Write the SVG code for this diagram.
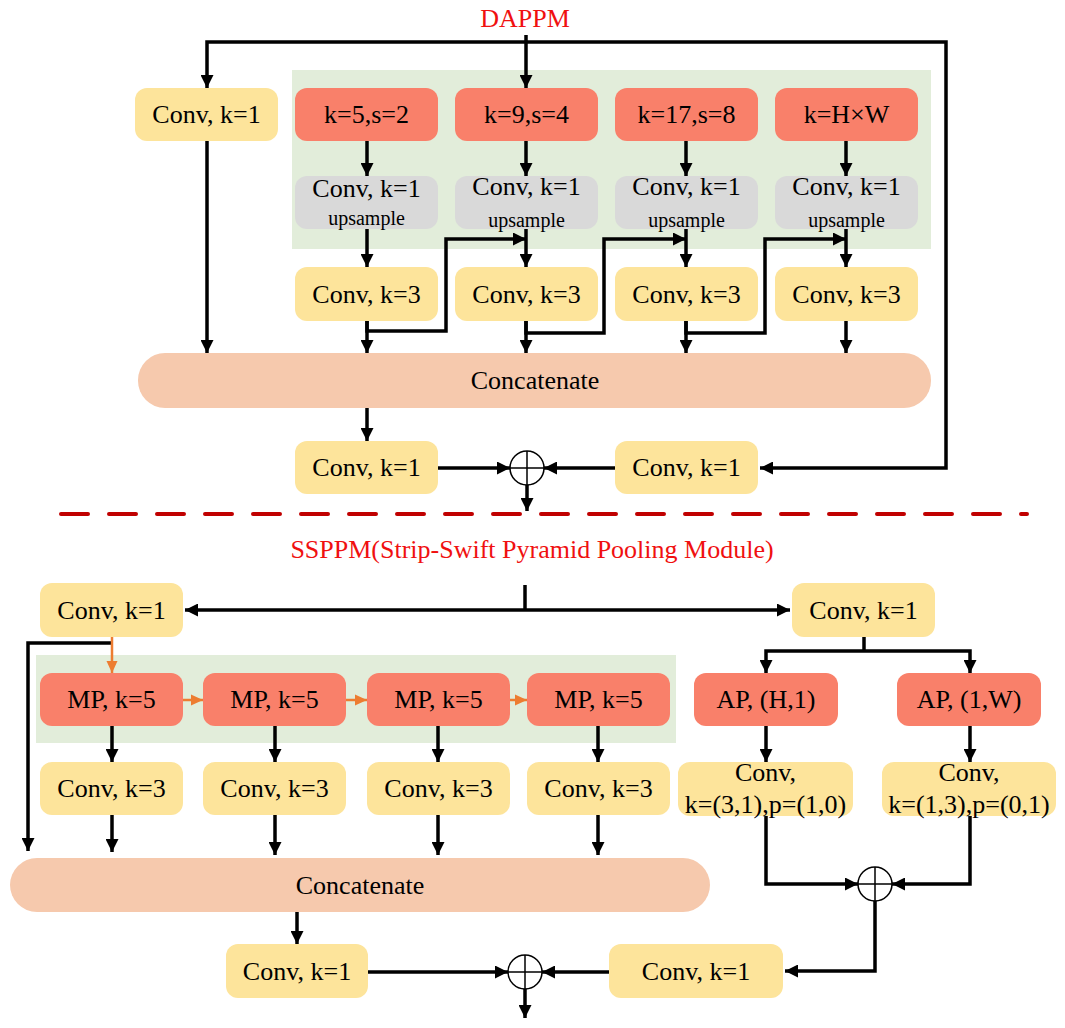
<svg xmlns="http://www.w3.org/2000/svg" width="1065" height="1028" viewBox="0 0 1065 1028" font-family="'Liberation Serif','Times New Roman',serif">
<style>
text{font-family:"Liberation Serif","Times New Roman",serif;font-size:26px;fill:#000;text-anchor:middle}
.title{fill:#F01010}
.up{font-size:20px}
.y{fill:#FDE49B}
.r{fill:#F9806A}
.g{fill:#D9D9D9}
.c{fill:#F6C9AD}
.bg{fill:#E2EDDA}
.ln{fill:none;stroke:#000;stroke-width:3.5;stroke-linejoin:miter}
.ar{marker-end:url(#ah)}
.ar2{marker-start:url(#ah);marker-end:url(#ah)}
.or{fill:none;stroke:#ED7D31;stroke-width:2.5;marker-end:url(#ao)}
.sum{fill:#fff;stroke:#000;stroke-width:1.5}
.dash{fill:none;stroke:#C00000;stroke-width:4;stroke-linecap:round;stroke-dasharray:27 21}
</style>
<defs>
<marker id="ah" markerUnits="userSpaceOnUse" markerWidth="13" markerHeight="13" refX="13" refY="6.5" orient="auto-start-reverse">
<path d="M0,0 L13,6.5 L0,13 z" fill="#000"/>
</marker>
<marker id="ao" markerUnits="userSpaceOnUse" markerWidth="12" markerHeight="12" refX="12" refY="6" orient="auto">
<path d="M0,0.5 L12,6 L0,11.5 z" fill="#ED7D31"/>
</marker>
</defs>

<!-- backgrounds -->
<rect class="bg" x="292" y="70" width="639" height="179"/>
<rect class="bg" x="36" y="655" width="640" height="88"/>

<text class="title" x="525" y="27">DAPPM</text>
<text class="title" x="532" y="558">SSPPM(Strip-Swift Pyramid Pooling Module)</text>

<!-- DAPPM nodes -->
<g id="d_conv1_left"><rect class="y" x="135" y="88" width="143" height="53" rx="12"/><text x="206.5" y="123">Conv, k=1</text></g>
<g id="d_pool1"><rect class="r" x="295" y="88" width="143" height="53" rx="12"/><text x="366.5" y="123">k=5,s=2</text></g>
<g id="d_pool2"><rect class="r" x="455" y="88" width="143" height="53" rx="12"/><text x="526.5" y="123">k=9,s=4</text></g>
<g id="d_pool3"><rect class="r" x="615" y="88" width="143" height="53" rx="12"/><text x="686.5" y="123">k=17,s=8</text></g>
<g id="d_pool4"><rect class="r" x="775" y="88" width="143" height="53" rx="12"/><text x="846.5" y="123">k=H×W</text></g>

<g id="d_up1"><rect class="g" x="295" y="176" width="143" height="53" rx="12"/><text x="366.5" y="197">Conv, k=1</text><text class="up" x="366.5" y="225">upsample</text></g>
<g id="d_up2"><rect class="g" x="455" y="176" width="143" height="53" rx="12"/><text x="526.5" y="195">Conv, k=1</text><text class="up" x="526.5" y="227">upsample</text></g>
<g id="d_up3"><rect class="g" x="615" y="176" width="143" height="53" rx="12"/><text x="686.5" y="195">Conv, k=1</text><text class="up" x="686.5" y="227">upsample</text></g>
<g id="d_up4"><rect class="g" x="775" y="176" width="143" height="53" rx="12"/><text x="846.5" y="195">Conv, k=1</text><text class="up" x="846.5" y="227">upsample</text></g>

<g id="d_conv3_1"><rect class="y" x="295" y="267" width="143" height="54" rx="12"/><text x="366.5" y="303">Conv, k=3</text></g>
<g id="d_conv3_2"><rect class="y" x="455" y="267" width="143" height="54" rx="12"/><text x="526.5" y="303">Conv, k=3</text></g>
<g id="d_conv3_3"><rect class="y" x="615" y="267" width="143" height="54" rx="12"/><text x="686.5" y="303">Conv, k=3</text></g>
<g id="d_conv3_4"><rect class="y" x="775" y="267" width="143" height="54" rx="12"/><text x="846.5" y="303">Conv, k=3</text></g>

<g id="d_concat"><rect class="c" x="138" y="353" width="793" height="55" rx="27"/><text x="535" y="389">Concatenate</text></g>

<g id="d_conv_out"><rect class="y" x="295" y="441" width="143" height="53" rx="12"/><text x="366.5" y="476">Conv, k=1</text></g>
<g id="d_conv_short"><rect class="y" x="615" y="441" width="143" height="53" rx="12"/><text x="686.5" y="476">Conv, k=1</text></g>
<g id="d_sum"><circle class="sum" cx="527" cy="468" r="17"/><path d="M510,468 H544 M527,451 V485" stroke="#000" stroke-width="1.5"/></g>

<!-- SSPPM nodes -->
<g id="s_conv1_left"><rect class="y" x="40" y="583" width="143" height="54" rx="12"/><text x="111.5" y="619">Conv, k=1</text></g>
<g id="s_conv1_right"><rect class="y" x="792" y="583" width="143" height="54" rx="12"/><text x="863.5" y="619">Conv, k=1</text></g>

<g id="s_mp1"><rect class="r" x="40" y="673" width="143" height="53" rx="12"/><text x="111.5" y="708">MP, k=5</text></g>
<g id="s_mp2"><rect class="r" x="203" y="673" width="143" height="53" rx="12"/><text x="274.5" y="708">MP, k=5</text></g>
<g id="s_mp3"><rect class="r" x="367" y="673" width="143" height="53" rx="12"/><text x="438.5" y="708">MP, k=5</text></g>
<g id="s_mp4"><rect class="r" x="527" y="673" width="143" height="53" rx="12"/><text x="598.5" y="708">MP, k=5</text></g>

<g id="s_conv3_1"><rect class="y" x="40" y="762" width="143" height="53" rx="12"/><text x="111.5" y="797">Conv, k=3</text></g>
<g id="s_conv3_2"><rect class="y" x="203" y="762" width="143" height="53" rx="12"/><text x="274.5" y="797">Conv, k=3</text></g>
<g id="s_conv3_3"><rect class="y" x="367" y="762" width="143" height="53" rx="12"/><text x="438.5" y="797">Conv, k=3</text></g>
<g id="s_conv3_4"><rect class="y" x="527" y="762" width="143" height="53" rx="12"/><text x="598.5" y="797">Conv, k=3</text></g>

<g id="s_ap1"><rect class="r" x="694" y="673" width="144" height="53" rx="12"/><text x="766" y="708">AP, (H,1)</text></g>
<g id="s_ap2"><rect class="r" x="897" y="673" width="144" height="53" rx="12"/><text x="969" y="708">AP, (1,W)</text></g>

<g id="s_strip1"><rect class="y" x="678" y="762" width="175" height="54" rx="12"/><text x="765.5" y="781">Conv,</text><text x="765.5" y="813">k=(3,1),p=(1,0)</text></g>
<g id="s_strip2"><rect class="y" x="882" y="762" width="174" height="54" rx="12"/><text x="969" y="781">Conv,</text><text x="969" y="813">k=(1,3),p=(0,1)</text></g>

<g id="s_concat"><rect class="c" x="10" y="858" width="700" height="54" rx="27"/><text x="360" y="894">Concatenate</text></g>

<g id="s_conv_out"><rect class="y" x="226" y="944" width="142" height="54" rx="12"/><text x="297" y="980">Conv, k=1</text></g>
<g id="s_conv_short"><rect class="y" x="609" y="944" width="174" height="54" rx="12"/><text x="696" y="980">Conv, k=1</text></g>
<g id="s_sum1"><circle class="sum" cx="525" cy="972" r="17"/><path d="M508,972 H542 M525,955 V989" stroke="#000" stroke-width="1.5"/></g>
<g id="s_sum2"><circle class="sum" cx="875" cy="884" r="17"/><path d="M858,884 H892 M875,867 V901" stroke="#000" stroke-width="1.5"/></g>

<!-- connectors -->
<g id="connectors">
<!-- DAPPM -->
<path class="ln ar2" d="M207,88 L207,42 L946,42 L946,468 L760,468"/>
<path class="ln ar" d="M526,35 L526,88"/>
<path class="ln ar" d="M207,141 L207,353"/>
<path class="ln ar" d="M367,141 L367,176"/>
<path class="ln ar" d="M526,141 L526,176"/>
<path class="ln ar" d="M686,141 L686,176"/>
<path class="ln ar" d="M846,141 L846,176"/>
<path class="ln ar" d="M367,229 L367,267"/>
<path class="ln ar" d="M526,229 L526,267"/>
<path class="ln ar" d="M686,229 L686,267"/>
<path class="ln ar" d="M846,229 L846,267"/>
<path class="ln ar" d="M367,321 L367,353"/>
<path class="ln ar" d="M526,321 L526,353"/>
<path class="ln ar" d="M686,321 L686,353"/>
<path class="ln ar" d="M846,321 L846,353"/>
<path class="ln ar" d="M367,321 L367,331 L446,331 L446,239 L526,239"/>
<path class="ln ar" d="M526,321 L526,333 L604,333 L604,239 L686,239"/>
<path class="ln ar" d="M686,321 L686,333 L765,333 L765,239 L846,239"/>
<path class="ln ar" d="M367,408 L367,441"/>
<path class="ln ar" d="M438,468 L510,468"/>
<path class="ln ar" d="M615,468 L544,468"/>
<path class="ln ar" d="M527,485 L527,511"/>

<path class="dash" d="M61,514 L1027,514"/>

<!-- SSPPM -->
<path class="ln" d="M525,585 L525,610"/>
<path class="ln ar2" d="M185,610 L790,610"/>
<path class="ln" d="M864,637 L864,651"/>
<path class="ln ar2" d="M766,673 L766,651 L970,651 L970,673"/>
<path class="ln ar" d="M112,643 L28,643 L28,851"/>
<path class="or" d="M112,637 L112,673"/>
<path class="or" d="M183,700 L203,700"/>
<path class="or" d="M346,700 L367,700"/>
<path class="or" d="M510,700 L527,700"/>
<path class="ln ar" d="M112,726 L112,762"/>
<path class="ln ar" d="M275,726 L275,762"/>
<path class="ln ar" d="M438,726 L438,762"/>
<path class="ln ar" d="M598,726 L598,762"/>
<path class="ln ar" d="M112,815 L112,852"/>
<path class="ln ar" d="M275,815 L275,855"/>
<path class="ln ar" d="M438,815 L438,855"/>
<path class="ln ar" d="M598,815 L598,855"/>
<path class="ln ar" d="M766,726 L766,762"/>
<path class="ln ar" d="M970,726 L970,762"/>
<path class="ln ar" d="M766,816 L766,884 L858,884"/>
<path class="ln ar" d="M970,816 L970,884 L892,884"/>
<path class="ln ar" d="M875,901 L875,971 L785,971"/>
<path class="ln ar" d="M297,912 L297,944"/>
<path class="ln ar" d="M368,972 L508,972"/>
<path class="ln ar" d="M609,972 L542,972"/>
<path class="ln ar" d="M525,989 L525,1018"/>
</g>
</svg>
